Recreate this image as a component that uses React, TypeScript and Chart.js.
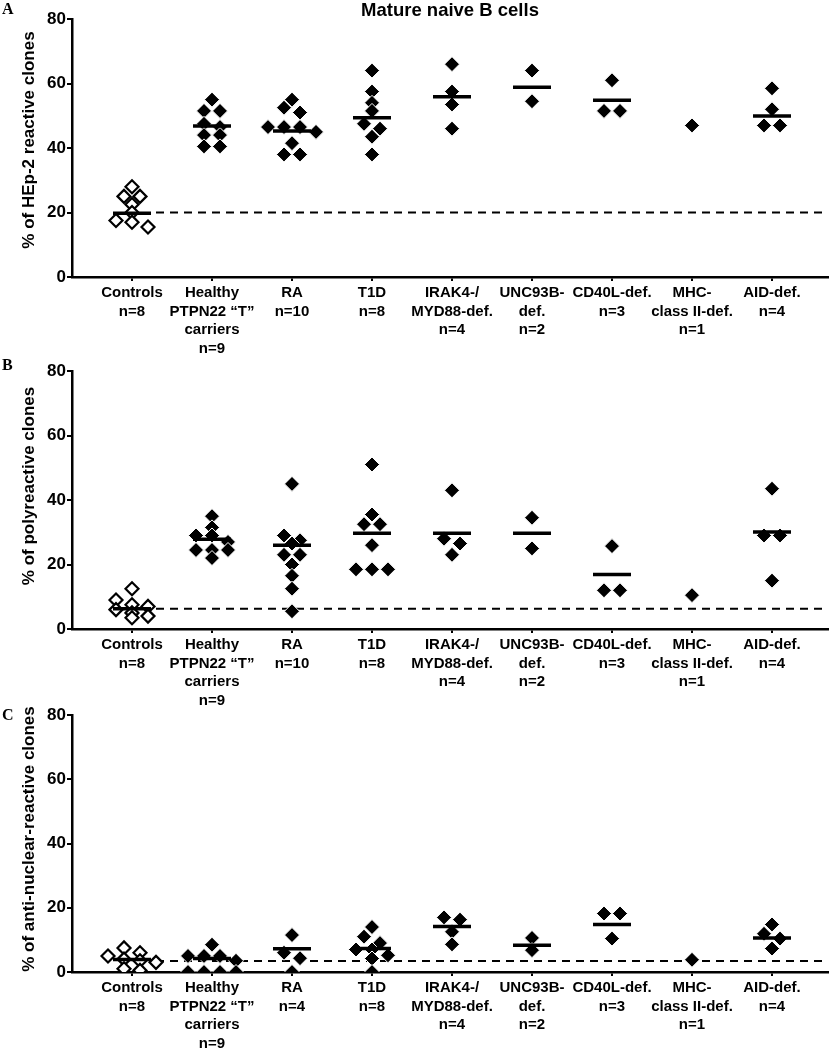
import React, { useEffect, useRef } from "react";
import { Chart, registerables } from "chart.js";

Chart.register(...registerables);

// ---------- data ----------
const categories = [
  "Controls",
  "Healthy PTPN22 “T” carriers",
  "RA",
  "T1D",
  "IRAK4-/MYD88-def.",
  "UNC93B-def.",
  "CD40L-def.",
  "MHC-class II-def.",
  "AID-def.",
];

const tickLinesAB = [
  ["Controls", "n=8"],
  ["Healthy", "PTPN22 “T”", "carriers", "n=9"],
  ["RA", "n=10"],
  ["T1D", "n=8"],
  ["IRAK4-/", "MYD88-def.", "n=4"],
  ["UNC93B-", "def.", "n=2"],
  ["CD40L-def.", "n=3"],
  ["MHC-", "class II-def.", "n=1"],
  ["AID-def.", "n=4"],
];
const tickLinesC = [
  ["Controls", "n=8"],
  ["Healthy", "PTPN22 “T”", "carriers", "n=9"],
  ["RA", "n=4"],
  ["T1D", "n=8"],
  ["IRAK4-/", "MYD88-def.", "n=4"],
  ["UNC93B-", "def.", "n=2"],
  ["CD40L-def.", "n=3"],
  ["MHC-", "class II-def.", "n=1"],
  ["AID-def.", "n=4"],
];

const yTicks = [0, 20, 40, 60, 80];

// Panel A: % of HEp-2 reactive clones
const hep2Values = [
  [28, 25, 25, 22.5, 20, 17.5, 17, 15.5],
  [55, 51.5, 51.5, 47.5, 46.5, 44, 44, 40.5, 40.5],
  [55, 52.5, 51, 46.5, 46.5, 46.5, 45, 41.5, 38, 38],
  [64, 57.5, 54, 51.5, 47.5, 46, 43.5, 38],
  [66, 57.5, 53.5, 46],
  [64, 54.5],
  [61, 51.5, 51.5],
  [47],
  [58.5, 52, 47, 47],
];
const hep2Means = [19.8, 46.8, 45.3, 49.4, 55.9, 58.8, 54.8, null, 49.9];
const hep2Reference = 20;

// Panel B: % of polyreactive clones
const polyValues = [
  [12.5, 9, 7.5, 7, 6, 5, 4, 3.5],
  [35, 31.5, 29, 29, 27, 24.5, 24.5, 24.5, 22],
  [45, 29, 27.5, 26.5, 23, 23, 20, 16.5, 12.5, 5.5],
  [51, 35.5, 32.5, 32.5, 26, 18.5, 18.5, 18.5],
  [43, 28, 26.5, 23],
  [34.5, 25],
  [25.7, 12, 12],
  [10.5],
  [43.5, 29, 29, 15],
];
const polyMeans = [6.3, 27.8, 26, 29.7, 29.7, 29.7, 16.9, null, 30.1];
const polyReference = 6.3;

// Panel C: % of anti-nuclear-reactive clones
const anaValues = [
  [7.5, 6, 5, 4, 3.5, 3, 1, 0.5],
  [8.5, 5, 5, 5, 3.5, 0, 0, 0, 0],
  [11.5, 6, 4.3, 0],
  [14, 11, 9, 7, 7, 5.2, 4.2, 0],
  [17, 16.3, 12.5, 8.6],
  [10.6, 6.8],
  [18.2, 18.2, 10.4],
  [3.8],
  [14.8, 11.9, 10.4, 7.3],
];
const anaMeans = [3.9, 4.2, 7.2, 7.3, 14.2, 8.3, 14.8, null, 10.6];
const anaReference = 3.4;

// ---------- helpers ----------
const SANS = '"Liberation Sans", Arial, Helvetica, sans-serif';
const SERIF = '"Liberation Serif", "Times New Roman", serif';
const X_MIN = -0.75;
const X_MAX = 8.7;
const ROW_GAP = 2.4; // values closer than this share a row in the column scatter
const STEP = 0.2; // horizontal spacing of points inside a row (category units)

function swarm(values: number[], idx: number) {
  const sorted = [...values].sort((a, b) => b - a);
  const rows: number[][] = [];
  for (const v of sorted) {
    const row = rows[rows.length - 1];
    if (row && row[0] - v < ROW_GAP) row.push(v);
    else rows.push([v]);
  }
  const pts: { x: number; y: number }[] = [];
  rows.forEach((row) =>
    row.forEach((v, k) => pts.push({ x: idx + (k - (row.length - 1) / 2) * STEP, y: v }))
  );
  return pts;
}

type PanelSpec = {
  values: number[][];
  means: (number | null)[];
  reference: number;
  tickLines: string[][];
  yTitle: string;
  yTitleCenter: number;
  letter: string;
  letterBaseline: number;
  mainTitle?: string;
  height: number;
  areaTop: number;
  areaBottom: number;
};

const textPlugin = {
  id: "panelText",
  afterDraw(chart: any, _args: any, opts: any) {
    const ctx = chart.ctx;
    const spec: PanelSpec = opts.spec;
    ctx.save();
    ctx.fillStyle = "#000";
    ctx.font = `bold 16px ${SERIF}`;
    ctx.textAlign = "left";
    ctx.textBaseline = "alphabetic";
    ctx.fillText(spec.letter, 2, spec.letterBaseline);
    if (spec.mainTitle) {
      ctx.font = `bold 18.5px ${SANS}`;
      ctx.textAlign = "center";
      ctx.textBaseline = "alphabetic";
      const a = chart.chartArea;
      ctx.fillText(spec.mainTitle, (a.left + a.right) / 2, 16);
    }
    ctx.translate(29, spec.yTitleCenter);
    ctx.rotate(-Math.PI / 2);
    ctx.font = `bold 17px ${SANS}`;
    ctx.textAlign = "center";
    ctx.textBaseline = "middle";
    ctx.fillText(spec.yTitle, 0, 0);
    ctx.restore();
  },
};

function Panel({ spec, top }: { spec: PanelSpec; top: number }) {
  const ref = useRef<HTMLCanvasElement | null>(null);
  useEffect(() => {
    if (!ref.current) return;
    const controls = swarm(spec.values[0], 0);
    const others = spec.values.slice(1).flatMap((vals, i) => swarm(vals, i + 1));
    const meanPts = spec.means
      .map((m, i) => (m == null ? null : { x: i, y: m }))
      .filter((p) => p !== null);
    const chart = new Chart(ref.current, {
      type: "scatter",
      data: {
        datasets: [
          {
            label: "mean",
            data: meanPts as any,
            pointStyle: "line",
            pointRadius: 19,
            borderWidth: 3.5,
            borderColor: "#000",
            backgroundColor: "#000",
          },
          {
            label: "Controls",
            data: controls,
            pointStyle: "rectRot",
            pointRadius: 6.5,
            backgroundColor: "#fff",
            borderColor: "#000",
            borderWidth: 2.2,
          },
          {
            label: "Patients",
            data: others,
            pointStyle: "rectRot",
            pointRadius: 7.5,
            backgroundColor: "#000",
            borderColor: "#fff",
            borderWidth: 1,
          },
          {
            type: "line",
            label: "Control level",
            data: [
              { x: 0.3, y: spec.reference },
              { x: X_MAX, y: spec.reference },
            ],
            borderColor: "#000",
            borderWidth: 2,
            borderDash: [8, 6],
            pointRadius: 0,
            fill: false,
          } as any,
        ],
      },
      options: {
        animation: false,
        responsive: false,
        devicePixelRatio: 1,
        layout: {
          autoPadding: false,
          padding: { top: spec.areaTop, right: 6, left: 0, bottom: 0 },
        },
        plugins: {
          legend: { display: false },
          tooltip: { enabled: false },
          panelText: { spec },
        } as any,
        scales: {
          x: {
            type: "linear",
            min: X_MIN,
            max: X_MAX,
            afterBuildTicks: (s: any) => {
              s.ticks = categories.map((_, i) => ({ value: i }));
            },
            afterFit: (s: any) => {
              s.height = spec.height - spec.areaBottom;
              s.paddingLeft = 0;
              s.paddingRight = 0;
            },
            grid: {
              drawOnChartArea: false,
              drawTicks: true,
              tickLength: 4,
              color: "#000",
              lineWidth: 2,
            },
            border: { display: true, color: "#000", width: 2.5 },
            ticks: {
              autoSkip: false,
              maxRotation: 0,
              minRotation: 0,
              padding: 3,
              color: "#000",
              font: { family: SANS, size: 15, weight: "bold", lineHeight: 1.233 },
              callback: (v: any) => spec.tickLines[Math.round(v)] ?? "",
            },
          },
          y: {
            type: "linear",
            min: 0,
            max: 80,
            afterBuildTicks: (s: any) => {
              s.ticks = yTicks.map((v) => ({ value: v }));
            },
            afterFit: (s: any) => {
              s.width = 72;
            },
            grid: {
              drawOnChartArea: false,
              drawTicks: true,
              tickLength: 5,
              color: "#000",
              lineWidth: 2,
            },
            border: { display: true, color: "#000", width: 2.5 },
            ticks: {
              padding: 1,
              color: "#000",
              font: { family: SANS, size: 17, weight: "bold" },
            },
          },
        },
      } as any,
      plugins: [textPlugin],
    });
    return () => chart.destroy();
  }, [spec]);
  return (
    <canvas
      ref={ref}
      width={834}
      height={spec.height}
      style={{ position: "absolute", left: 0, top, width: 834, height: spec.height, display: "block" }}
    />
  );
}

const panelA: PanelSpec = {
  values: hep2Values,
  means: hep2Means,
  reference: hep2Reference,
  tickLines: tickLinesAB,
  yTitle: "% of HEp-2 reactive clones",
  yTitleCenter: 140,
  letter: "A",
  letterBaseline: 14,
  mainTitle: "Mature naive B cells",
  height: 355,
  areaTop: 19,
  areaBottom: 277,
};
const panelB: PanelSpec = {
  values: polyValues,
  means: polyMeans,
  reference: polyReference,
  tickLines: tickLinesAB,
  yTitle: "% of polyreactive clones",
  yTitleCenter: 131,
  letter: "B",
  letterBaseline: 15,
  height: 362,
  areaTop: 16,
  areaBottom: 274,
};
const panelC: PanelSpec = {
  values: anaValues,
  means: anaMeans,
  reference: anaReference,
  tickLines: tickLinesC,
  yTitle: "% of anti-nuclear-reactive clones",
  yTitleCenter: 139,
  letter: "C",
  letterBaseline: 20,
  height: 350,
  areaTop: 15,
  areaBottom: 272,
};

export default function App() {
  return (
    <div style={{ position: "absolute", left: 0, top: 0, width: 834, height: 1050, background: "#fff" }}>
      <Panel spec={panelA} top={0} />
      <Panel spec={panelB} top={355} />
      <Panel spec={panelC} top={700} />
    </div>
  );
}
